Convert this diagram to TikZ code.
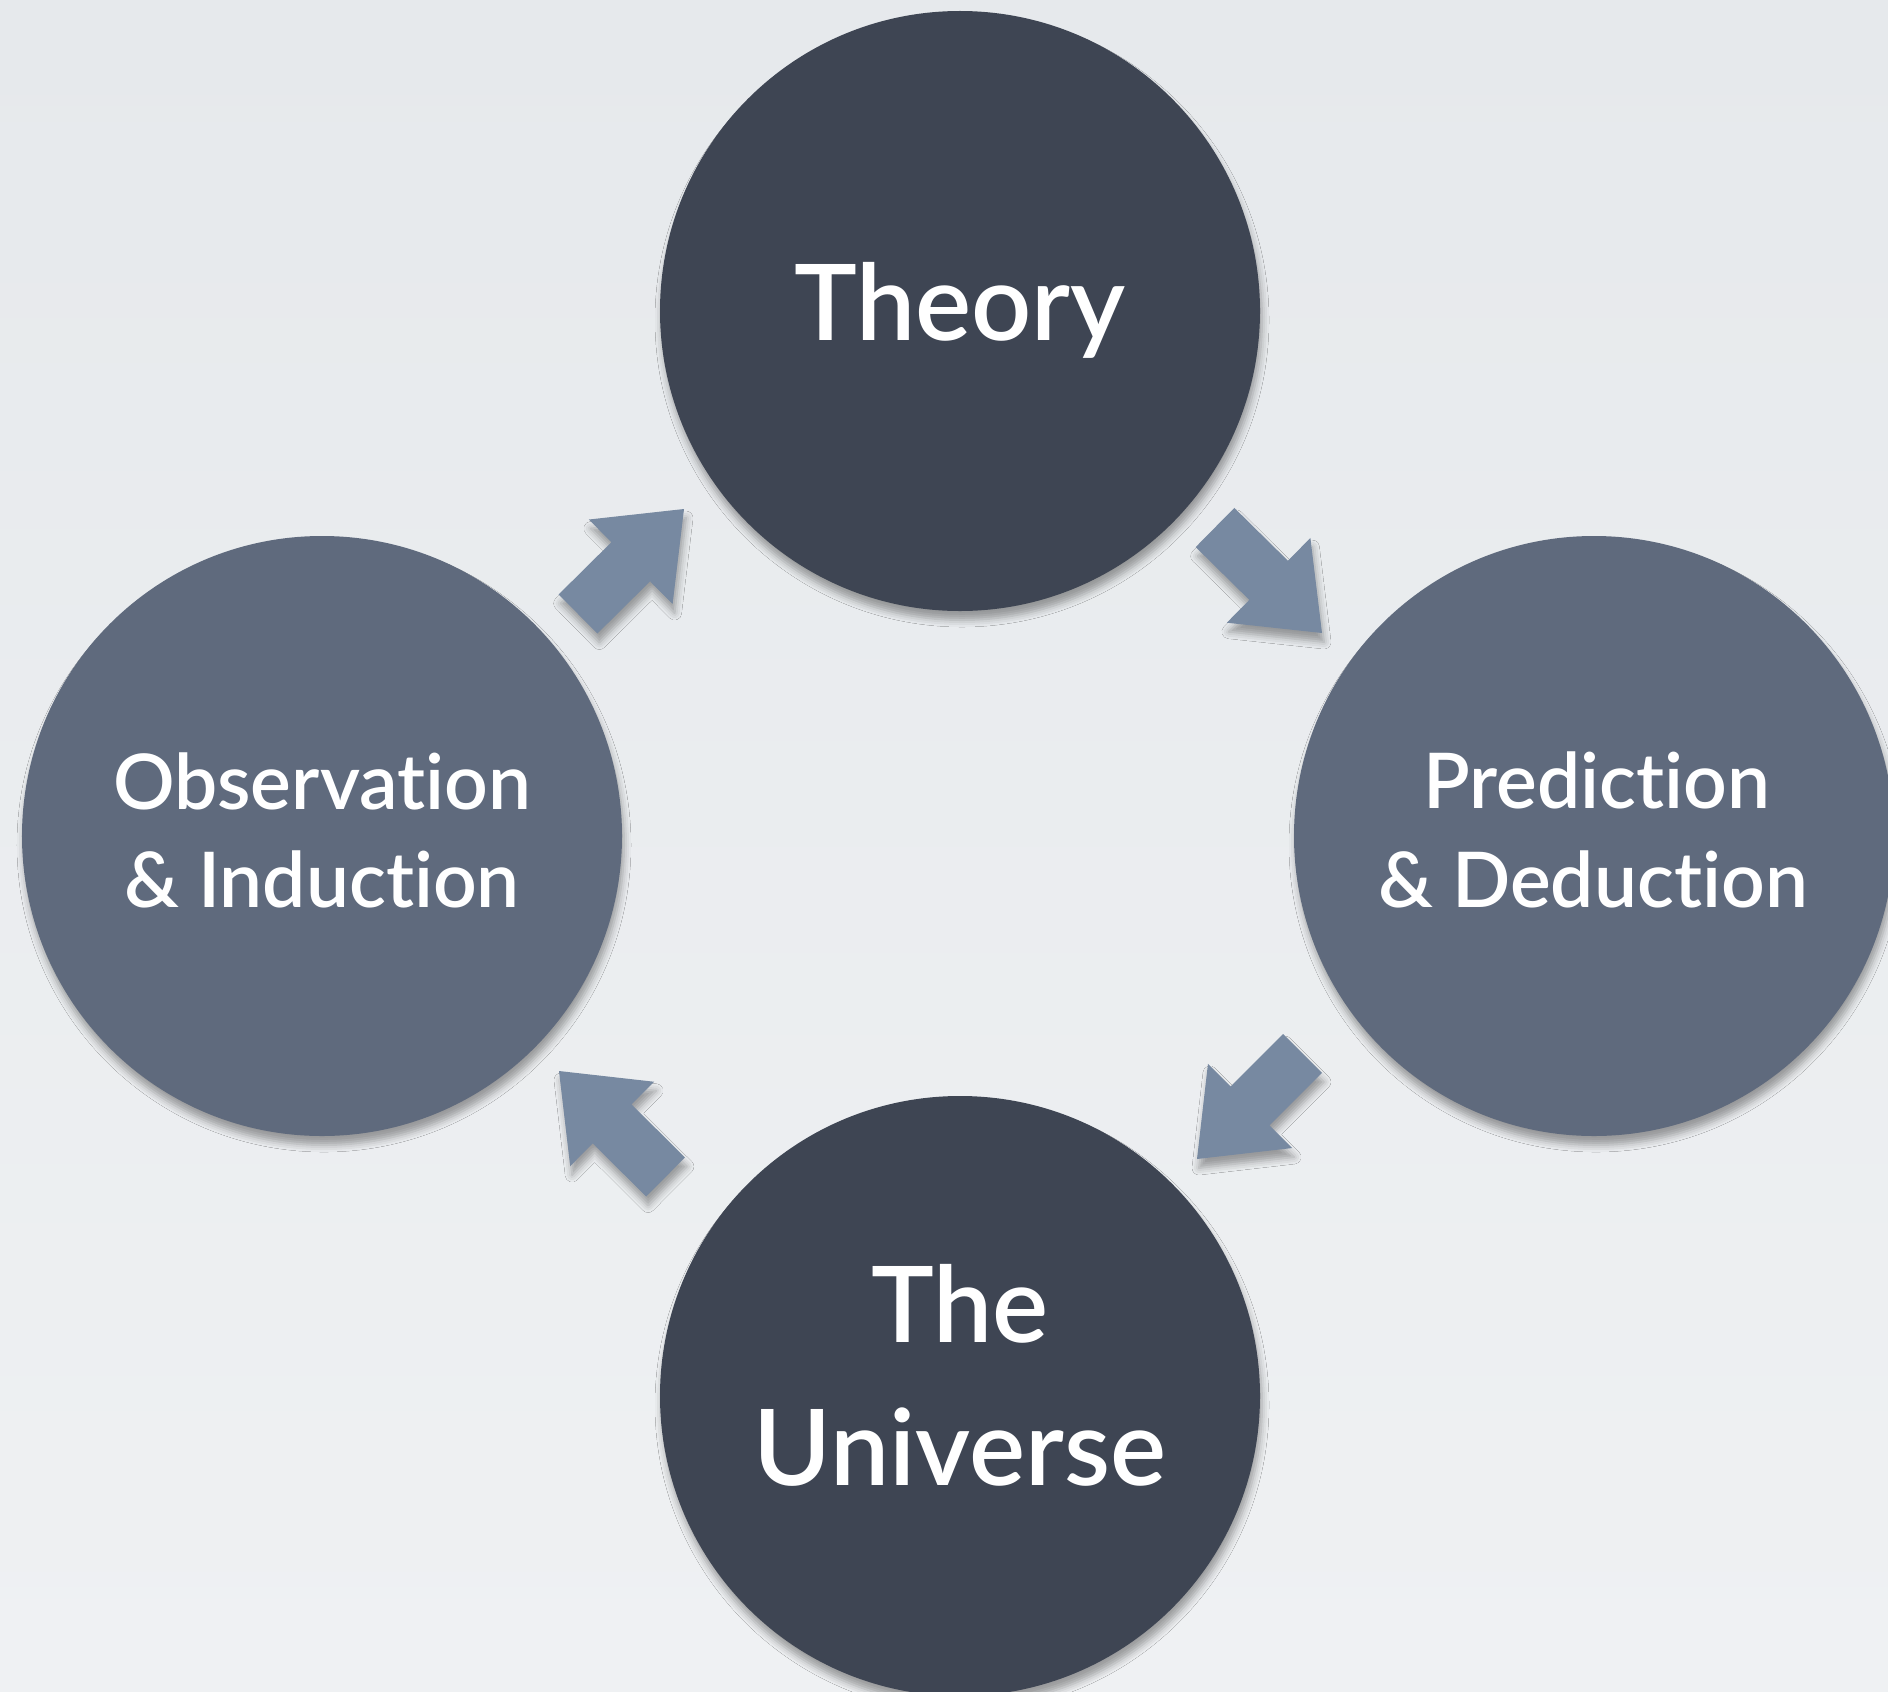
\documentclass[tikz,border=0pt]{standalone}
\usepackage{fontspec}
\setmainfont{Lato}[Ligatures=NoCommon, BoldFont={Lato Semibold}]
\usetikzlibrary{calc,shadows.blur}

\definecolor{bgtop}{HTML}{E6E9EC}
\definecolor{bgbot}{HTML}{EFF1F3}
\definecolor{darkslate}{HTML}{3E4553}
\definecolor{midslate}{HTML}{5F6A7D}
\definecolor{arrowslate}{HTML}{7789A1}

\tikzset{
  softshadow/.style={blur shadow={shadow xshift=2bp, shadow yshift=-9bp,
      shadow blur radius=7bp, shadow opacity=35}},
  disc/.style={circle, minimum size=600bp, inner sep=0pt, draw=none, softshadow},
  keydisc/.style={disc, fill=darkslate},
  sidedisc/.style={disc, fill=midslate},
  bigtext/.style={anchor=base, text=white, inner sep=0pt,
      font=\bfseries\fontsize{106}{106}\selectfont},
  smalltext/.style={anchor=base, text=white, inner sep=0pt,
      font=\bfseries\fontsize{77}{77}\selectfont},
  blockarrow/.style={fill=arrowslate, draw=none, softshadow}
}

% block arrow from a tail midpoint to a tip
\newcommand{\cyclearrow}[3]{%
  \coordinate (#1-tail) at #2;
  \coordinate (#1-tip) at #3;
  \coordinate (#1-base) at ($(#1-tip)!75bp!(#1-tail)$);
  \fill[blockarrow]
    ($(#1-tail)!27.5bp!90:(#1-tip)$) --
    ($(#1-base)!27.5bp!90:(#1-tip)$) --
    ($(#1-base)!59.5bp!90:(#1-tip)$) --
    (#1-tip) --
    ($(#1-base)!59.5bp!-90:(#1-tip)$) --
    ($(#1-base)!27.5bp!-90:(#1-tip)$) --
    ($(#1-tail)!27.5bp!-90:(#1-tip)$) -- cycle;
}

\begin{document}
\begin{tikzpicture}[x=1bp, y=-1bp]
  \useasboundingbox (0,0) rectangle (1888,1692);
  \clip (0,0) rectangle (1888,1692);
  \shade[top color=bgtop, bottom color=bgbot] (0,0) rectangle (1888,1692);

  % the four stages
  \node[keydisc]  (theory)   at (960,311)  {};
  \node[sidedisc] (predict)  at (1594,836) {};
  \node[keydisc]  (universe) at (960,1396) {};
  \node[sidedisc] (observe)  at (322,836)  {};

  \node[bigtext] (theory-label) at (960,340) {Theory};
  \node[smalltext] (predict-l1) at (1597,808) {Prediction};
  \node[smalltext] (predict-l2) at (1593,907) {\& Deduction};
  \node[bigtext] (universe-l1) at (960,1342) {The};
  \node[bigtext] (universe-l2) at (960,1485) {Universe};
  \node[smalltext] (observe-l1) at (322,809) {Observation};
  \node[smalltext] (observe-l2) at (322,907) {\& Induction};

  % arrows around the cycle
  \cyclearrow{toTheory}{(578,614)}{(684,509)}
  \cyclearrow{toPredict}{(1215,527.5)}{(1322,633)}
  \cyclearrow{toUniverse}{(1302.5,1053.5)}{(1197,1159)}
  \cyclearrow{toObserve}{(665.5,1177)}{(559,1071)}
\end{tikzpicture}
\end{document}
